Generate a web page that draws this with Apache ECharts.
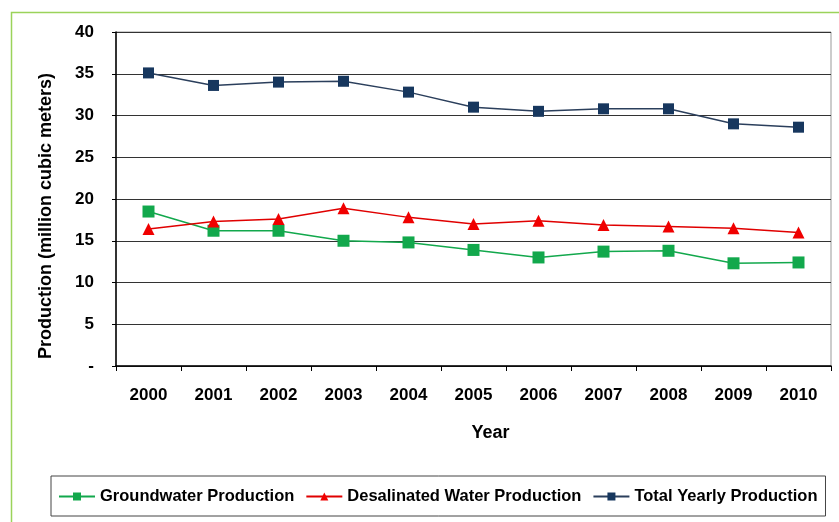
<!DOCTYPE html>
<html>
<head>
<meta charset="utf-8">
<script src="https://cdn.jsdelivr.net/npm/echarts@6/dist/echarts.min.js"></script>
<style>
    html, body { margin: 0; padding: 0; background: #fff; }
    #chart { width: 839px; height: 522px; }
</style>
</head>
<body>
<div id="chart"></div>
<script>
var years = ['2000', '2001', '2002', '2003', '2004', '2005', '2006', '2007', '2008', '2009', '2010'];
var groundwater = [18.5, 16.2, 16.2, 15.0, 14.8, 13.9, 13.0, 13.7, 13.8, 12.3, 12.4];
var desalinated = [16.4, 17.3, 17.6, 18.9, 17.8, 17.0, 17.4, 16.9, 16.7, 16.5, 16.0];
var totalYearly = [35.1, 33.6, 34.0, 34.1, 32.8, 31.0, 30.5, 30.8, 30.8, 29.0, 28.6];

var font = 'Liberation Sans, Arial, sans-serif';

window.onload = function () {
    initChart();
};

var chart;
function initChart() {
    chart = echarts.init(document.getElementById('chart'));

    var option = {
        animation: false,
        backgroundColor: '#fff',
        graphic: [
            {
                type: 'rect',
                shape: { x: 11.5, y: 12.5, width: 840, height: 540 },
                style: { fill: null, stroke: '#9bd35a', lineWidth: 1.5 },
                silent: true
            }
        ],
        grid: {
            left: 116,
            right: 8,
            top: 32,
            bottom: 156,
            show: true,
            borderColor: '#999',
            borderWidth: 1
        },
        legend: {
            left: 51,
            top: 476,
            padding: [12, 8, 11, 7],
            borderColor: '#444',
            borderWidth: 1,
            itemWidth: 36,
            itemHeight: 10,
            itemGap: 11,
            textStyle: { fontFamily: font, fontWeight: 'bold', fontSize: 16.5, color: '#000' },
            data: ['Groundwater Production', 'Desalinated Water Production', 'Total Yearly Production']
        },
        xAxis: {
            type: 'category',
            data: years,
            name: 'Year',
            nameLocation: 'middle',
            nameGap: 58,
            nameTextStyle: { fontFamily: font, fontWeight: 'bold', fontSize: 18, color: '#000', padding: [0, 0, 0, 34] },
            axisLine: { lineStyle: { color: '#000', width: 1.5 } },
            axisTick: { show: true, length: 5, lineStyle: { color: '#000' } },
            axisLabel: { margin: 21, fontFamily: font, fontWeight: 'bold', fontSize: 17, color: '#000' }
        },
        yAxis: {
            type: 'value',
            min: 0,
            max: 40,
            interval: 5,
            name: 'Production (million cubic meters)',
            nameLocation: 'middle',
            nameGap: 61,
            nameTextStyle: { fontFamily: font, fontWeight: 'bold', fontSize: 18, color: '#000', padding: [0, 34, 0, 0] },
            axisLine: { show: true, lineStyle: { color: '#000', width: 1.5 } },
            axisTick: { show: true, length: 4, lineStyle: { color: '#000' } },
            axisLabel: {
                margin: 22,
                fontFamily: font, fontWeight: 'bold', fontSize: 17, color: '#000',
                formatter: function (v) { return v === 0 ? '-' : v; }
            },
            splitLine: { lineStyle: { color: '#333', width: 1.2 } }
        },
        series: [
            {
                name: 'Groundwater Production',
                type: 'line',
                data: groundwater,
                symbol: 'rect',
                symbolSize: 12,
                itemStyle: { color: '#12a84c' },
                lineStyle: { color: '#12a84c', width: 1.5 }
            },
            {
                name: 'Desalinated Water Production',
                type: 'line',
                data: desalinated,
                symbol: 'triangle',
                symbolSize: 12,
                itemStyle: { color: '#f00000' },
                lineStyle: { color: '#e00000', width: 1.5 }
            },
            {
                name: 'Total Yearly Production',
                type: 'line',
                data: totalYearly,
                symbol: 'rect',
                symbolSize: 11,
                itemStyle: { color: '#17375e' },
                lineStyle: { color: '#2b3f5c', width: 1.5 }
            }
        ]
    };

    chart.setOption(option);
}
</script>
</body>
</html>
